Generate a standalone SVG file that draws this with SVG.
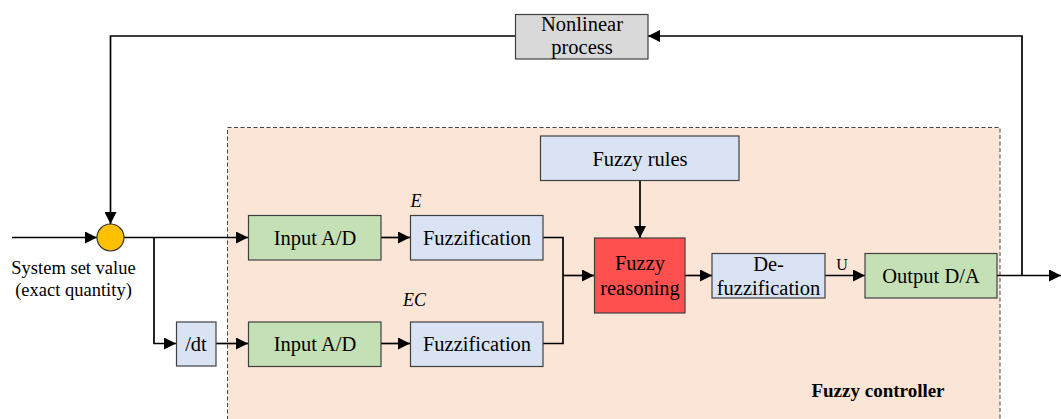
<svg xmlns="http://www.w3.org/2000/svg" width="1061" height="419" viewBox="0 0 1061 419">
  <style>
    text { font-family: "Liberation Serif", Tinos, "Times New Roman", Times, "Noto Serif", "DejaVu Serif", serif; fill: #000; }
    .box { stroke: #404040; stroke-width: 1.2; }
    .lbl { font-size: 20.5px; text-anchor: middle; }
    .small { font-size: 18.5px; text-anchor: middle; }
    .ital { font-size: 18px; font-style: italic; }
    .wire { fill: none; stroke: #000; stroke-width: 1.7; }
    .blue { fill: #DAE3F3; }
    .green { fill: #C5E0B4; }
  </style>
  <defs>
    <marker id="arrow" viewBox="0 0 12 12" refX="12" refY="6" markerWidth="12" markerHeight="12" markerUnits="userSpaceOnUse" orient="auto">
      <path d="M0,0 L12,6 L0,12 Z" fill="#000"/>
    </marker>
  </defs>

  <rect width="1061" height="419" fill="#fff"/>

  <!-- fuzzy controller boundary -->
  <g id="controller">
    <rect x="227.5" y="127.5" width="772.5" height="300" fill="#FBE5D6" stroke="#444" stroke-width="1" stroke-dasharray="4,2.5"/>
    <text x="878" y="397" font-size="19" font-weight="bold" text-anchor="middle">Fuzzy controller</text>
  </g>

  <!-- connectors -->
  <g id="connectors">
    <line class="wire" x1="12" y1="237.5" x2="97" y2="237.5" marker-end="url(#arrow)"/>
    <path class="wire" d="M1022,275.5 V36 H648" marker-end="url(#arrow)"/>
    <path class="wire" d="M515,36 H110.5 V224" marker-end="url(#arrow)"/>
    <line class="wire" x1="124" y1="237.5" x2="248" y2="237.5" marker-end="url(#arrow)"/>
    <path class="wire" d="M154,237.5 V343.5 H176" marker-end="url(#arrow)"/>
    <line class="wire" x1="216" y1="343.5" x2="248" y2="343.5" marker-end="url(#arrow)"/>
    <line class="wire" x1="381" y1="237.5" x2="410" y2="237.5" marker-end="url(#arrow)"/>
    <line class="wire" x1="381" y1="343.5" x2="410" y2="343.5" marker-end="url(#arrow)"/>
    <path class="wire" d="M543,237.5 H563 V343.5 H543"/>
    <line class="wire" x1="563" y1="275.5" x2="594" y2="275.5" marker-end="url(#arrow)"/>
    <line class="wire" x1="640" y1="181" x2="640" y2="238" marker-end="url(#arrow)"/>
    <line class="wire" x1="685" y1="275.5" x2="712" y2="275.5" marker-end="url(#arrow)"/>
    <line class="wire" x1="825" y1="275.5" x2="865" y2="275.5" marker-end="url(#arrow)"/>
    <line class="wire" x1="997" y1="275.5" x2="1061" y2="275.5" marker-end="url(#arrow)"/>
  </g>

  <!-- summing junction -->
  <g id="sum">
    <circle cx="110.5" cy="237.5" r="13.5" fill="#FFC000" stroke="#333" stroke-width="1.2"/>
    <text class="small" x="73.5" y="274">System set value</text>
    <text class="small" x="73.5" y="296">(exact quantity)</text>
  </g>

  <g id="nonlinear">
    <rect class="box" x="515.5" y="14.5" width="132.5" height="44.5" fill="#D9D9D9"/>
    <text class="lbl" x="582" y="31">Nonlinear</text>
    <text class="lbl" x="582" y="54">process</text>
  </g>

  <g id="dt">
    <rect class="box blue" x="176.5" y="322" width="39.5" height="44"/>
    <text class="lbl" x="196" y="351">/dt</text>
  </g>

  <g id="input-ad-1">
    <rect class="box green" x="248.5" y="215.5" width="132.5" height="44.5"/>
    <text class="lbl" x="315" y="244.5">Input A/D</text>
  </g>

  <g id="input-ad-2">
    <rect class="box green" x="248.5" y="322" width="132.5" height="44.5"/>
    <text class="lbl" x="315" y="351">Input A/D</text>
  </g>

  <g id="fuzzification-1">
    <rect class="box blue" x="410.5" y="215.5" width="132.5" height="44.5"/>
    <text class="lbl" x="477" y="244.5">Fuzzification</text>
    <text class="ital" x="410.5" y="207">E</text>
  </g>

  <g id="fuzzification-2">
    <rect class="box blue" x="410.5" y="322" width="132.5" height="44.5"/>
    <text class="lbl" x="477" y="351">Fuzzification</text>
    <text class="ital" x="403" y="306">EC</text>
  </g>

  <g id="fuzzy-rules">
    <rect class="box blue" x="540.5" y="136" width="198.5" height="44.5"/>
    <text class="lbl" x="640" y="165.5">Fuzzy rules</text>
  </g>

  <g id="fuzzy-reasoning">
    <rect class="box" x="594.5" y="238" width="90.5" height="75" fill="#FF5050"/>
    <text class="lbl" x="640" y="270">Fuzzy</text>
    <text class="lbl" x="640" y="295">reasoning</text>
  </g>

  <g id="defuzzification">
    <rect class="box blue" x="712" y="253.5" width="113" height="44.5"/>
    <text class="lbl" x="768.5" y="271">De-</text>
    <text class="lbl" x="768.5" y="295">fuzzification</text>
    <text x="842" y="270" font-size="16" text-anchor="middle">U</text>
  </g>

  <g id="output-da">
    <rect class="box green" x="865" y="253.5" width="132" height="44.5"/>
    <text class="lbl" x="931" y="282.5">Output D/A</text>
  </g>
</svg>
